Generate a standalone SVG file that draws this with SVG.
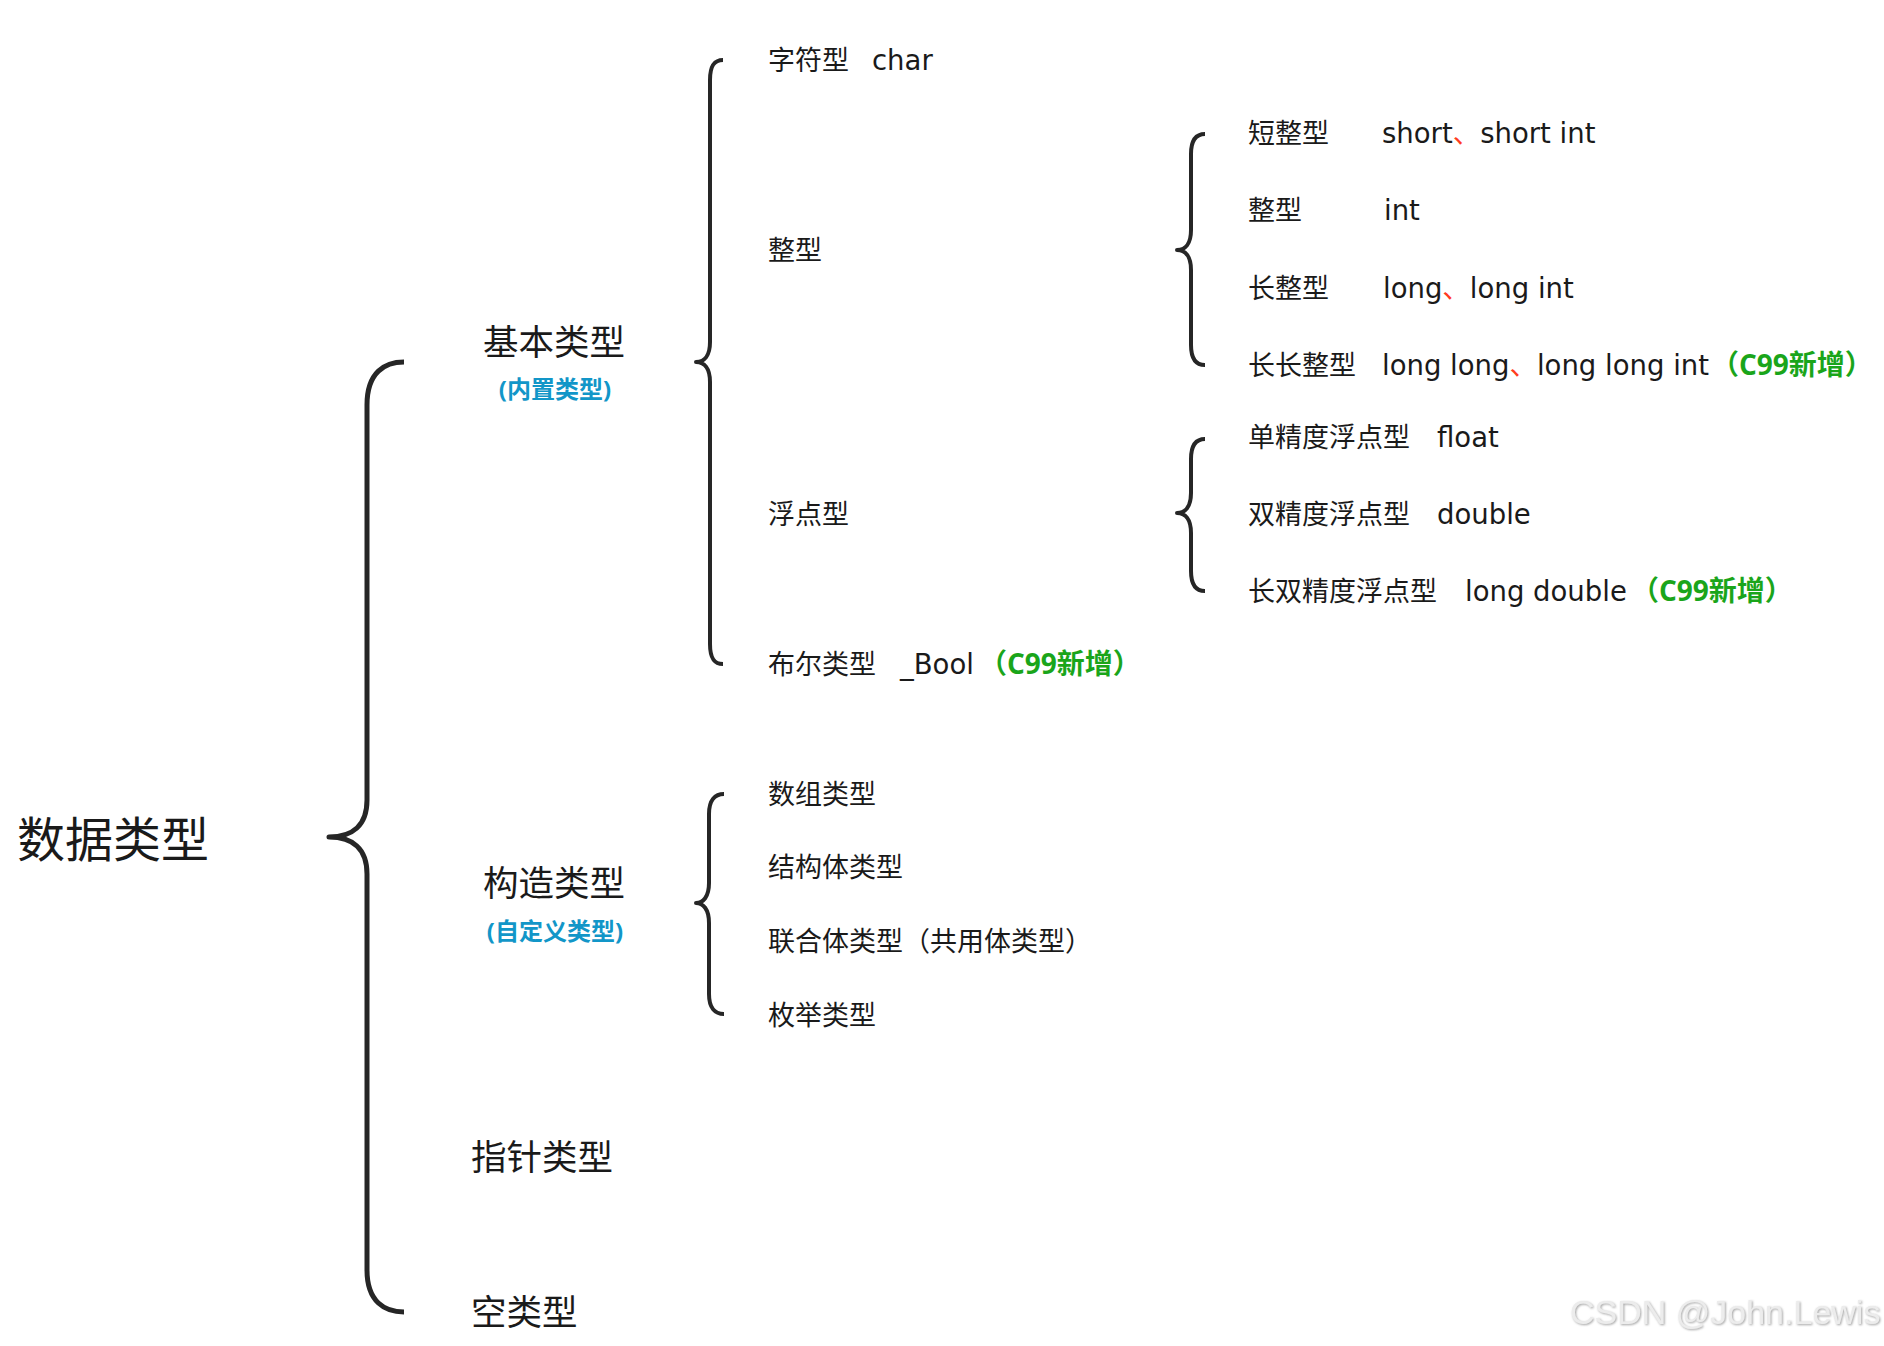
<svg xmlns="http://www.w3.org/2000/svg" width="1884" height="1346" viewBox="0 0 1884 1346">
<defs>
<style>
text{font-family:"Open Sans","Noto Sans CJK SC",sans-serif;fill:#1a1a1a}
.root{font-size:48px}
.l1{font-size:35.5px}
.l2{font-size:27px}
.lat{font-family:"DejaVu Sans","Noto Sans CJK SC",sans-serif;font-size:27.5px}
.blue{font-size:24px;font-weight:bold;fill:#1296c8}
.green{font-size:28px;font-weight:bold;fill:#1aa51a}
.red{fill:#ff3c1e}
.brace{fill:none;stroke:#262626;stroke-width:4;stroke-linecap:butt;stroke-linejoin:round}
.big{stroke-width:5}
.wm{font-family:"Liberation Sans",Arial,sans-serif;font-size:34px;fill:#ececec}
</style>
<filter id="emboss" x="-5%" y="-20%" width="110%" height="140%">
<feDropShadow dx="1" dy="1" stdDeviation="0.8" flood-color="#9a9a9a" flood-opacity="0.9"/>
</filter>
</defs>
<rect width="1884" height="1346" fill="#ffffff"/>
<g id="connectors">
<path class="brace big" d="M404,362 C385,362 367,372 367,405 L367,800 C367,826 352,837 329,837 C352,837 367,848 367,874 L367,1270 C367,1302 385,1312 404,1312"/>
<path class="brace" d="M723,60 C714,60 710,66 710,80 L710,342 C710,356 704,362 696,362 C704,362 710,368 710,382 L710,644 C710,658 714,664 723,664"/>
<path class="brace" d="M1205,134 C1196,134 1191,140 1191,154 L1191,230 C1191,244 1185,250 1177,250 C1185,250 1191,256 1191,270 L1191,345 C1191,359 1196,365 1205,365"/>
<path class="brace" d="M1205,439 C1196,439 1191,445 1191,459 L1191,493 C1191,507 1185,513 1177,513 C1185,513 1191,519 1191,533 L1191,571 C1191,585 1196,591 1205,591"/>
<path class="brace" d="M724,794 C715,794 709,800 709,814 L709,883 C709,897 703,903 696,903 C703,903 709,909 709,923 L709,994 C709,1008 715,1014 724,1014"/>
</g>
<g id="node-root"><text class="root" x="17" y="857">数据类型</text></g>
<g id="node-basic">
<text class="l1" x="483" y="355">基本类型</text>
<text class="blue" x="555" y="398" text-anchor="middle">(内置类型)</text>
</g>
<g id="node-construct">
<text class="l1" x="483" y="896">构造类型</text>
<text class="blue" x="555" y="940" text-anchor="middle">(自定义类型)</text>
</g>
<g id="node-pointer"><text class="l1" x="471" y="1170">指针类型</text></g>
<g id="node-void"><text class="l1" x="471" y="1325">空类型</text></g>
<g id="node-char"><text class="l2" x="768" y="70">字符型</text><text class="lat" x="872" y="70">char</text></g>
<g id="node-int-group"><text class="l2" x="768" y="260">整型</text></g>
<g id="node-float-group"><text class="l2" x="768" y="524">浮点型</text></g>
<g id="node-bool"><text class="l2" x="768" y="674">布尔类型</text><text class="lat" x="900" y="674">_Bool</text><text class="green" x="979" y="674">（C99新增）</text></g>
<g id="node-array"><text class="l2" x="768" y="804">数组类型</text></g>
<g id="node-struct"><text class="l2" x="768" y="877">结构体类型</text></g>
<g id="node-union"><text class="l2" x="768" y="951">联合体类型（共用体类型）</text></g>
<g id="node-enum"><text class="l2" x="768" y="1025">枚举类型</text></g>
<g id="node-short"><text class="l2" x="1248" y="143">短整型</text><text class="lat" x="1382" y="143">short<tspan class="red">、</tspan>short int</text></g>
<g id="node-int"><text class="l2" x="1248" y="220">整型</text><text class="lat" x="1384" y="220">int</text></g>
<g id="node-long"><text class="l2" x="1248" y="298">长整型</text><text class="lat" x="1383" y="298">long<tspan class="red">、</tspan>long int</text></g>
<g id="node-longlong"><text class="l2" x="1248" y="375">长长整型</text><text class="lat" x="1382" y="375">long long<tspan class="red">、</tspan>long long int</text><text class="green" x="1711" y="375">（C99新增）</text></g>
<g id="node-float"><text class="l2" x="1248" y="447">单精度浮点型</text><text class="lat" x="1437" y="447">float</text></g>
<g id="node-double"><text class="l2" x="1248" y="524">双精度浮点型</text><text class="lat" x="1437" y="524">double</text></g>
<g id="node-longdouble"><text class="l2" x="1248" y="601">长双精度浮点型</text><text class="lat" x="1465" y="601">long double</text><text class="green" x="1631" y="601">（C99新增）</text></g>
<g id="watermark"><text class="wm" x="1570" y="1324" filter="url(#emboss)">CSDN @John.Lewis</text></g>
</svg>
